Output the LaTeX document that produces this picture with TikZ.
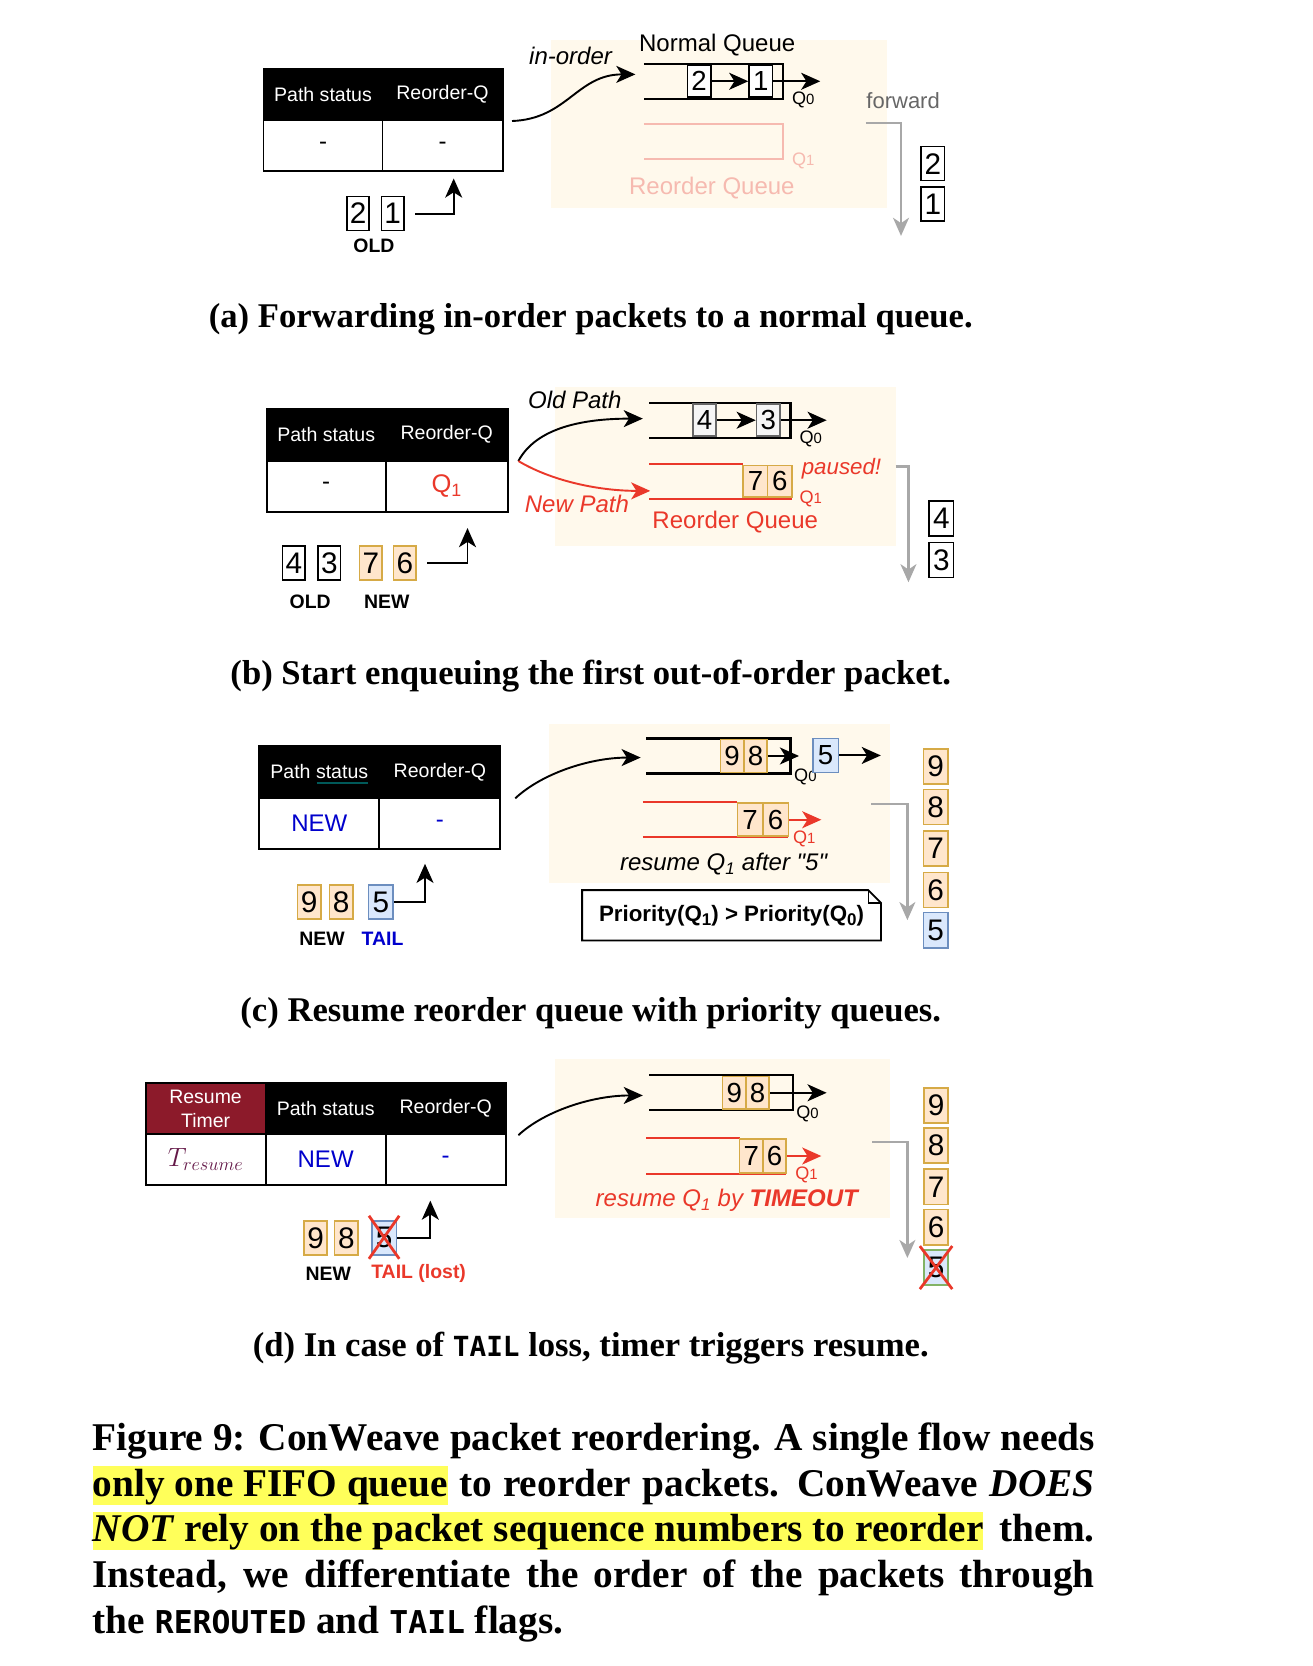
\documentclass[tikz,border=0pt]{standalone}
\usepackage{fontspec}
\setsansfont{Liberation Sans}
\newfontfamily\capfont{Liberation Serif}
\newfontfamily\capmono[Scale=0.8]{DejaVu Sans Mono}
\usetikzlibrary{arrows.meta,positioning,calc}

\definecolor{bgbeige}{RGB}{255,249,236}
\definecolor{pktfill}{RGB}{255,230,204}
\definecolor{pktline}{RGB}{214,170,70}
\definecolor{tailfill}{RGB}{218,232,252}
\definecolor{tailline}{RGB}{108,142,191}
\definecolor{oldfill}{RGB}{245,245,245}
\definecolor{oldline}{RGB}{102,102,102}
\definecolor{qred}{RGB}{234,56,42}
\definecolor{qpink}{RGB}{246,186,176}
\definecolor{fwgray}{RGB}{168,168,168}
\definecolor{newblue}{RGB}{0,0,204}
\definecolor{timerred}{RGB}{140,26,42}
\definecolor{tcolor}{RGB}{100,24,72}
\definecolor{hly}{RGB}{255,255,90}
\definecolor{lostgreen}{RGB}{130,179,102}

\newcommand{\fsz}[1]{\fontsize{#1}{#1}\selectfont}
\newcommand{\hlmark}[1]{{\setlength{\fboxsep}{0pt}\colorbox{hly}{\rule[-8pt]{0pt}{36pt}#1}}}
\newcommand{\qsub}[1]{\raisebox{-4pt}{\fsz{16}#1}}

\begin{document}
\begin{tikzpicture}[x=1pt, y=-1pt,
  hdr/.style={fill=black, draw=black, line width=1.8pt, text=white, font=\sffamily\fsz{18.4}, minimum height=48pt, inner sep=0pt},
  cell/.style={draw=black, line width=1.8pt, fill=white, font=\sffamily\fsz{22.6}, minimum height=48pt, inner sep=0pt},
  pkt/.style={draw=black, line width=1.5pt, fill=white, font=\sffamily\fsz{28}, minimum width=21pt, minimum height=32pt, inner sep=0pt},
  qpkt/.style={pkt, minimum width=22pt, minimum height=30pt, font=\sffamily\fsz{26}},
  newpkt/.style={draw=pktline, fill=pktfill},
  tailpkt/.style={draw=tailline, fill=tailfill},
  oldpkt/.style={draw=oldline, fill=oldfill},
  qline/.style={line width=2pt},
  rline/.style={line width=2pt, qred},
  arr/.style={line width=1.8pt, -{Stealth[length=18pt,width=16pt,inset=5pt]}},
  rarr/.style={arr, qred},
  garr/.style={line width=2.2pt, fwgray, -{Stealth[length=17pt,width=15pt,inset=5pt]}},
  lbl/.style={font=\sffamily\bfseries\fsz{18.3}},
  qlbl/.style={font=\sffamily\fsz{17}, inner sep=0pt},
  qtitle/.style={font=\sffamily\fsz{22.6}},
  cross/.style={qred, line width=2.6pt},
  subcap/.style={font=\capfont\bfseries\fsz{32.6}, anchor=base},
  capline/.style={font=\capfont\bfseries\fsz{37}, anchor=base west, inner sep=0pt}]

\useasboundingbox (0,0) rectangle (1235,1568);

\begin{scope}
  \node[hdr, minimum width=112pt] (ps) at (304,89) {Path status};
  \node[hdr, minimum width=113pt] (rq) at (416.5,89) {Reorder-Q};
  \node[cell, minimum width=112pt] (psv) at (304,137) {-};
  \node[cell, minimum width=113pt] (rqv) at (416.5,137) {-};

  \node[pkt] (i2) at (337,201) {2};
  \node[pkt] (i1) at (369.5,201) {1};
  \node[lbl] at (352,231) {OLD};
  \coordinate (up) at (427,168);
  \draw[arr] ([xshift=10pt]i1.east) -| (up);

  \fill[bgbeige] (519,38) rectangle (835,196);
  \node[qtitle] at (675,42) {Normal Queue};
  \coordinate (qin) at (598,70);
  \draw[arr] ([xshift=8pt]rq.south east) .. controls (534,112) and (543,70) .. (qin);
  \node[qtitle, font=\sffamily\itshape\fsz{22.6}] at (537,53) {in-order};

  \draw[qline] (606,60) -- (737,60) -- (737,93) -- (606,93);
  \node[qpkt] (q2) at (658,76.5) {2};
  \node[qpkt] (q1) at (716,76.5) {1};
  \coordinate (qout) at (772,76.5);
  \draw[arr] (q2.east) -- (q1.west);
  \draw[arr] (q1.east) -- (qout);
  \node[qlbl] at (756,94) {Q{\fsz{14}0}};

  \draw[qline, qpink] (606,117) -- (737,117) -- (737,150) -- (606,150);
  \node[qlbl, text=qpink] at (756,151) {Q{\fsz{14}1}};
  \node[qtitle, text=qpink] at (670,177) {Reorder Queue};

  \node[font=\sffamily\fsz{20.7}, text=black!60] at (850,95) {forward};
  \coordinate (fs) at (815,116);
  \coordinate (fe) at (848,222);
  \draw[garr] (fs) -| (fe);
  \node[pkt, minimum width=22pt] (o2) at (878,154) {2};
  \node[pkt, minimum width=22pt] (o1) at (878,192) {1};

  \node[subcap] at (556,308) {(a) Forwarding in-order packets to a normal queue.};
\end{scope}

\begin{scope}
  \node[hdr, minimum width=112pt] (ps) at (307,409) {Path status};
  \node[hdr, minimum width=115pt] (rq) at (420.5,409) {Reorder-Q};
  \node[cell, minimum width=112pt] (psv) at (307,457.5) {-};
  \node[cell, minimum width=115pt, text=qred, font=\sffamily\fsz{24}] (rqv) at (420.5,457.5) {Q\textsubscript{1}};

  \node[pkt] (i4) at (276.5,530) {4};
  \node[pkt] (i3) at (310,530) {3};
  \node[pkt, newpkt] (i7) at (349,530) {7};
  \node[pkt, newpkt] (i6) at (381,530) {6};
  \node[lbl] at (292,566) {OLD};
  \node[lbl] at (364,566) {NEW};
  \coordinate (up) at (440,497);
  \draw[arr] ([xshift=10pt]i6.east) -| (up);

  \fill[bgbeige] (522,364) rectangle (843,514);
  \coordinate (qin) at (605,394);
  \coordinate (rin) at (612,462);
  \draw[arr] ([xshift=9pt]rq.south east) .. controls (505,402) and (550,394) .. (qin);
  \draw[rarr] ([xshift=9pt]rq.south east) .. controls (518,452) and (562,462) .. (rin);
  \node[qtitle, font=\sffamily\itshape\fsz{22.6}] at (541,376) {Old Path};
  \node[qtitle, font=\sffamily\itshape\fsz{22.6}, text=qred] at (543,474) {New Path};

  \draw[qline] (611,379) -- (744,379) -- (744,412) -- (611,412);
  \node[qpkt, oldpkt] (q4) at (663,395.5) {4};
  \node[qpkt, oldpkt] (q3) at (723,395.5) {3};
  \coordinate (qout) at (778,395.5);
  \draw[arr] (q4.east) -- (q3.west);
  \draw[arr] (q3.east) -- (qout);
  \node[qlbl] at (763,413) {Q{\fsz{14}0}};

  \draw[rline] (611,437) -- (699.5,437);
  \draw[rline] (611,470) -- (745.5,470);
  \node[qpkt, newpkt, minimum width=23pt] (r7) at (711,453) {7};
  \node[qpkt, newpkt, minimum width=23pt] (r6) at (734,453) {6};
  \node[qlbl, text=qred] at (763,470) {Q{\fsz{14}1}};
  \node[font=\sffamily\itshape\fsz{21}, text=qred] at (792,441) {paused!};
  \node[qtitle, text=qred] at (692,491) {Reorder Queue};

  \coordinate (fs) at (843,439);
  \coordinate (fe) at (855,548);
  \draw[garr] (fs) -| (fe);
  \node[pkt, minimum width=23pt, minimum height=33pt] (o4) at (886,488) {4};
  \node[pkt, minimum width=23pt, minimum height=33pt] (o3) at (886,527) {3};

  \node[subcap] at (556,644) {(b) Start enqueuing the first out-of-order packet.};
\end{scope}

\begin{scope}
  \node[hdr, minimum width=113pt] (ps) at (300.5,726.5) {Path status};
  \node[hdr, minimum width=114pt] (rq) at (414,726.5) {Reorder-Q};
  \node[cell, minimum width=113pt, text=newblue] (psv) at (300.5,775) {NEW};
  \node[cell, minimum width=114pt, text=newblue] (rqv) at (414,775) {-};
  \draw[teal!70!black, line width=1.2pt] (298,737) -- (346,737);

  \node[pkt, newpkt, minimum width=22pt] (i9) at (291,849) {9};
  \node[pkt, newpkt, minimum width=22pt] (i8) at (321,849) {8};
  \node[pkt, tailpkt, minimum width=23pt] (i5) at (358.5,849) {5};
  \node[lbl] at (303,884) {NEW};
  \node[lbl, text=newblue] at (360,884) {TAIL};
  \coordinate (up) at (400,813);
  \draw[arr] (i5.east) -| (up);

  \fill[bgbeige] (517,681) rectangle (838,831);
  \coordinate (qin) at (603,713);
  \draw[arr] ([xshift=13pt]rq.south east) .. controls (510,728) and (555,713) .. (qin);

  \draw[qline] (608,695) -- (744,695) -- (744,728) -- (608,728);
  \node[qpkt, newpkt, minimum height=31pt] (q9) at (689,711.5) {9};
  \node[qpkt, newpkt, minimum height=31pt] (q8) at (711,711.5) {8};
  \coordinate (qout) at (752,711.5);
  \draw[arr] (q8.east) -- (qout);
  \node[qlbl] at (758,731) {Q{\fsz{14}0}};
  \node[qpkt, tailpkt, minimum width=24pt, minimum height=32pt] (q5) at (777,711) {5};
  \coordinate (fwd) at (829,711);
  \draw[arr] (q5.east) -- (fwd);

  \draw[rline] (605,755) -- (694,755);
  \draw[rline] (605,788) -- (742,788);
  \node[qpkt, newpkt, minimum width=24pt, minimum height=31pt] (r7) at (706,771.5) {7};
  \node[qpkt, newpkt, minimum width=24pt, minimum height=31pt] (r6) at (730,771.5) {6};
  \coordinate (rout) at (773,771.5);
  \draw[rarr] (r6.east) -- (rout);
  \node[qlbl, text=qred] at (757,790) {Q{\fsz{14}1}};
  \node[font=\sffamily\itshape\fsz{22.6}] at (681,813) {resume Q\textsubscript{1} after \textquotedbl 5\textquotedbl};

  \node[font=\sffamily\bfseries\fsz{21}, minimum width=281pt, minimum height=47pt, inner sep=0pt] (prio) at (688.5,861.5) {Priority(Q\qsub{1}) > Priority(Q\qsub{0})};
  \draw[line width=1.8pt] (prio.north west) -- ([xshift=-12pt]prio.north east) -- ([yshift=-12pt]prio.north east) -- (prio.south east) -- (prio.south west) -- cycle;
  \draw[line width=1.1pt] ([xshift=-12pt]prio.north east) -- ([xshift=-12pt,yshift=-12pt]prio.north east) -- ([yshift=-12pt]prio.north east);

  \coordinate (fs) at (820,757);
  \coordinate (fe) at (854,866);
  \draw[garr] (fs) -| (fe);
  \foreach \n/\y in {9/721.5, 8/759.5, 7/798.5, 6/837.5} {\node[pkt, newpkt, minimum width=23pt, minimum height=33pt] (o\n) at (880.5,\y) {\n};}
  \node[pkt, tailpkt, minimum width=23pt, minimum height=33pt] (o5) at (880.5,875.5) {5};

  \node[subcap] at (556,961) {(c) Resume reorder queue with priority queues.};
\end{scope}

\begin{scope}
  \node[hdr, minimum width=113pt, fill=timerred, align=center, font=\sffamily\fontsize{18.3}{22}\selectfont] (rt) at (193.5,1043.5) {Resume\\Timer};
  \node[hdr, minimum width=113pt] (ps) at (306.5,1043.5) {Path status};
  \node[hdr, minimum width=113pt] (rq) at (419.5,1043.5) {Reorder-Q};
  \node[cell, minimum width=113pt, text=tcolor, font=\fsz{25}] (rtv) at (193.5,1091.5) {$T_{resume}$};
  \node[cell, minimum width=113pt, text=newblue] (psv) at (306.5,1091.5) {NEW};
  \node[cell, minimum width=113pt, text=newblue] (rqv) at (419.5,1091.5) {-};

  \node[pkt, newpkt, minimum width=22pt] (i9) at (297,1165) {9};
  \node[pkt, newpkt, minimum width=22pt] (i8) at (326,1165) {8};
  \node[pkt, tailpkt, minimum width=23pt] (i5) at (361.5,1165) {5};
  \draw[cross] ([xshift=-2pt,yshift=4pt]i5.north west) -- ([xshift=2pt,yshift=-3pt]i5.south east);
  \draw[cross] ([xshift=2pt,yshift=4pt]i5.north east) -- ([xshift=-2pt,yshift=-3pt]i5.south west);
  \node[lbl] at (309,1199) {NEW};
  \node[lbl, text=qred] at (394,1199) {TAIL (lost)};
  \coordinate (up) at (405,1130);
  \draw[arr] (i5.east) -| (up);

  \fill[bgbeige] (522,997) rectangle (838,1146);
  \coordinate (qin) at (605,1031);
  \draw[arr] ([xshift=11pt]rq.south east) .. controls (512,1046) and (557,1031) .. (qin);

  \draw[qline] (611,1012) -- (746,1012) -- (746,1045) -- (611,1045);
  \node[qpkt, newpkt, minimum height=31pt] (q9) at (691,1028.5) {9};
  \node[qpkt, newpkt, minimum height=31pt] (q8) at (713,1028.5) {8};
  \coordinate (qout) at (778,1028.5);
  \draw[arr] (q8.east) -- (qout);
  \node[qlbl] at (760,1048) {Q{\fsz{14}0}};

  \draw[rline] (608,1071) -- (696,1071);
  \draw[rline] (608,1105) -- (740,1105);
  \node[qpkt, newpkt, minimum height=32pt] (r7) at (707,1088) {7};
  \node[qpkt, newpkt, minimum height=32pt] (r6) at (729,1088) {6};
  \coordinate (rout) at (773,1088);
  \draw[rarr] (r6.east) -- (rout);
  \node[qlbl, text=qred] at (759,1106) {Q{\fsz{14}1}};
  \node[font=\sffamily\itshape\fsz{22.6}, text=qred] at (684,1130) {resume Q\textsubscript{1} by \textbf{TIMEOUT}};

  \coordinate (fs) at (821,1075);
  \coordinate (fe) at (854,1184);
  \draw[garr] (fs) -| (fe);
  \foreach \n/\y in {9/1040.5, 8/1078, 7/1117, 6/1155} {\node[pkt, newpkt, minimum width=23pt, minimum height=33pt] (o\n) at (881,\y) {\n};}
  \node[pkt, draw=lostgreen, fill=tailfill, minimum width=23pt, minimum height=33pt] (o5) at (881,1193) {5};
  \draw[cross] ([xshift=-3pt,yshift=3pt]o5.north west) -- ([xshift=3pt,yshift=-3pt]o5.south east);
  \draw[cross] ([xshift=3pt,yshift=3pt]o5.north east) -- ([xshift=-3pt,yshift=-3pt]o5.south west);

  \node[subcap] at (556,1277) {(d) In case of {\capmono TAIL} loss, timer triggers resume.};
\end{scope}

\node[capline] (cap1) at (87,1365) {\makebox[943pt][s]{Figure 9: ConWeave packet reordering. A single flow needs}};
\node[capline] (cap2) at (87,1408) {\makebox[943pt][s]{\hlmark{only one FIFO queue} to reorder packets. ConWeave \textit{DOES}}};
\node[capline] (cap3) at (87,1451) {\makebox[943pt][s]{\hlmark{\textit{NOT} rely on the packet sequence numbers to reorder} them.}};
\node[capline] (cap4) at (87,1494) {\makebox[943pt][s]{Instead, we differentiate the order of the packets through}};
\node[capline] (cap5) at (87,1537) {the {\capmono REROUTED} and {\capmono TAIL} flags.};

\end{tikzpicture}
\end{document}
